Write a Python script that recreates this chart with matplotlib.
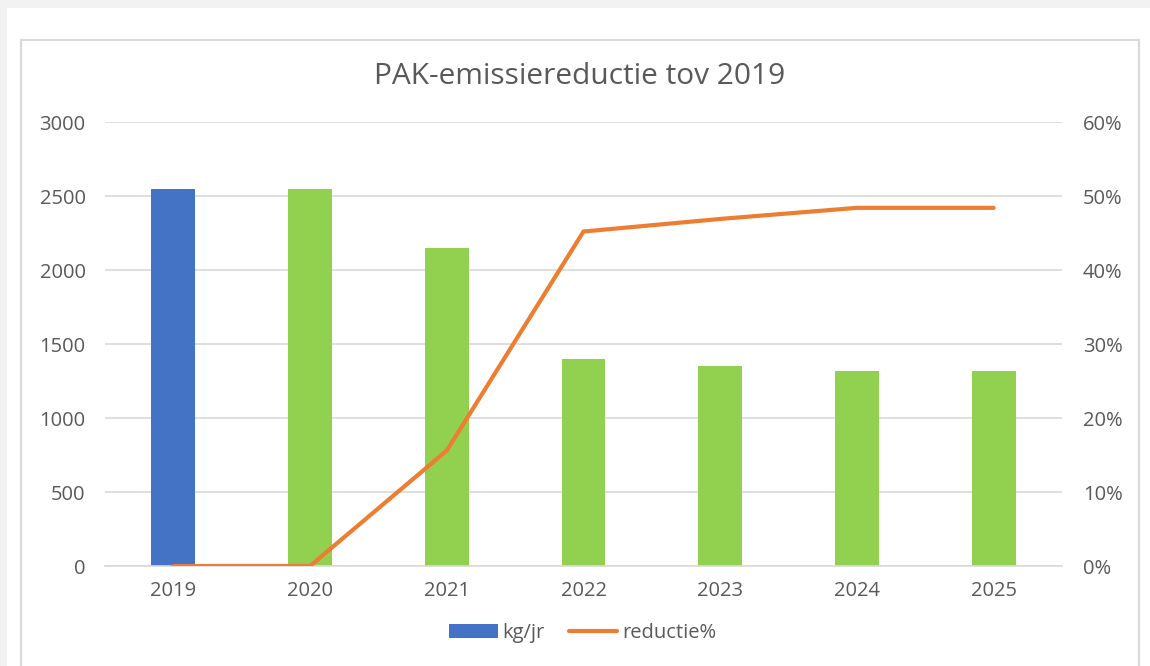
import matplotlib.pyplot as plt
from matplotlib.patches import Rectangle, Patch
from matplotlib.lines import Line2D
from matplotlib.ticker import PercentFormatter

# Data
years = ['2019', '2020', '2021', '2022', '2023', '2024', '2025']
kg_per_year = [2550, 2550, 2150, 1400, 1350, 1320, 1320]
reduction_pct = [0.0, 0.0, 15.6, 45.2, 46.9, 48.4, 48.4]
bar_colors = ['#4472C4', '#92D050', '#92D050', '#92D050', '#92D050', '#92D050', '#92D050']

TEXT = '#595959'
GRID = '#D9D9D9'
FS = 14.5
plt.rcParams['font.family'] = ['Open Sans', 'DejaVu Sans']

fig = plt.figure(figsize=(11.5, 6.66), dpi=100)
fig.patch.set_facecolor('white')

# screenshot surroundings: grey strips and the chart frame (behind the axes)
fig.patches.append(Rectangle((0, 1 - 8 / 666), 1, 8 / 666, transform=fig.transFigure,
                             facecolor='#F2F2F2', edgecolor='none', zorder=-10))
fig.patches.append(Rectangle((0, 0), 7 / 1150, 1, transform=fig.transFigure,
                             facecolor='#F2F2F2', edgecolor='none', zorder=-10))
fig.patches.append(Rectangle((21 / 1150, -0.02), (1139 - 21) / 1150, 1.02 - 40 / 666,
                             transform=fig.transFigure, facecolor='white',
                             edgecolor=GRID, linewidth=1.5, zorder=-9))

ax = fig.add_axes([105 / 1150, 1 - 566 / 666, (1062 - 105) / 1150, (566 - 122) / 666])
ax.set_facecolor('none')
x = range(len(years))
ax.bar(x, kg_per_year, width=0.32, color=bar_colors, zorder=2)
ax.set_ylim(0, 3000)
ax.set_yticks(range(0, 3001, 500))
ax.set_xlim(-0.5, len(years) - 0.5)
ax.set_xticks(list(x))
ax.set_xticklabels(years)
ax.yaxis.grid(True, color=GRID, linewidth=1.2, zorder=0)
ax.set_axisbelow(True)
for s in ax.spines.values():
    s.set_visible(False)
ax.spines['bottom'].set_visible(True)
ax.spines['bottom'].set_color(GRID)
ax.spines['bottom'].set_linewidth(1.2)
ax.tick_params(axis='both', length=0, colors=TEXT, labelsize=FS)
ax.tick_params(axis='y', pad=14)
ax.tick_params(axis='x', pad=11)

ax2 = ax.twinx()
ax2.plot(list(x), reduction_pct, color='#ED7D31', linewidth=3, zorder=3,
         solid_capstyle='round')
ax2.set_ylim(0, 60)
ax2.set_yticks(range(0, 61, 10))
ax2.yaxis.set_major_formatter(PercentFormatter(decimals=0))
for s in ax2.spines.values():
    s.set_visible(False)
ax2.tick_params(axis='y', length=0, colors=TEXT, labelsize=FS, pad=15)

fig.text(580 / 1150, 1 - 76 / 666, 'PAK-emissiereductie tov 2019', ha='center',
         va='center', fontsize=21.5, color=TEXT)

handles = [Patch(facecolor='#4472C4', edgecolor='none'),
           Line2D([0], [0], color='#ED7D31', linewidth=3, solid_capstyle='round')]
fig.legend(handles, ['kg/jr', 'reductie%'], loc='center', ncol=2,
           bbox_to_anchor=(583 / 1150, 1 - 633 / 666), frameon=False,
           fontsize=FS, labelcolor=TEXT, handlelength=2.4, handletextpad=0.25,
           columnspacing=1.2)

fig.savefig('out.png', dpi=100, facecolor=fig.get_facecolor())
